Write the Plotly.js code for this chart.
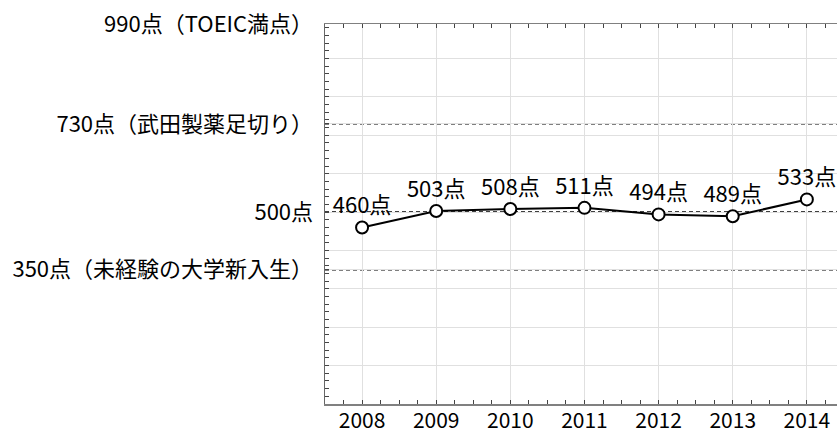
<!DOCTYPE html>
<html>
<head>
<meta charset="utf-8">
<script src="https://cdn.plot.ly/plotly-3.0.1.min.js"></script>
<style>
html,body{margin:0;padding:0;overflow:hidden;background:#fff;width:837px;height:433px;}
#chart{width:900px;height:433px;}
</style>
</head>
<body>
<div id="chart"></div>
<script>
const years = [2008, 2009, 2010, 2011, 2012, 2013, 2014];
const scores = [460, 503, 508, 511, 494, 489, 533];
const scoreLabels = ['460点', '503点', '508点', '511点', '494点', '489点', '533点'];
const refValues = [990, 730, 500, 350];
const refLabels = ['990点（TOEIC満点）', '730点（武田製薬足切り）', '500点', '350点（未経験の大学新入生）'];
const dashedRefValues = [730, 500, 350];
const gridValues = [0, 100, 200, 300, 400, 600, 700, 800, 900];

const FONT = '"Noto Sans CJK JP", "Noto Sans", sans-serif';

const tickvals = gridValues.concat(refValues);
const ticktext = gridValues.map(() => '').concat(refLabels);

const trace = {
  x: years,
  y: scores,
  text: scoreLabels,
  type: 'scatter',
  mode: 'lines+markers+text',
  textposition: 'top center',
  textfont: {family: FONT, size: 22, color: '#000'},
  line: {color: '#000', width: 2},
  marker: {symbol: 'circle', size: 12, color: '#fff', line: {color: '#000', width: 2}},
  cliponaxis: false,
  hoverinfo: 'skip'
};

const shapes = dashedRefValues.map(v => ({
  type: 'line', xref: 'paper', x0: 0, x1: 1, yref: 'y', y0: v, y1: v,
  line: {color: '#000', width: 1.5, dash: '4px,3px'}, layer: 'between'
}));

const layout = {
  width: 900, height: 433,
  margin: {l: 325, r: 19, t: 24, b: 29},
  paper_bgcolor: '#fff', plot_bgcolor: '#fff',
  showlegend: false,
  font: {family: FONT, size: 22, color: '#000'},
  xaxis: {
    range: [2007.5, 2015],
    tickmode: 'array', tickvals: years, ticktext: years.map(String),
    showgrid: true, gridcolor: '#e0e0e0', gridwidth: 1,
    zeroline: false,
    showline: true, linecolor: '#808080', linewidth: 1.5, mirror: 'ticks',
    ticks: 'inside', ticklen: 4, tickcolor: '#444',
    minor: {tickmode: 'linear', tick0: 2008, dtick: 0.25, ticks: 'inside', ticklen: 4, tickcolor: '#444', showgrid: false},
    tickfont: {family: FONT, size: 21, color: '#000'},
    ticklabelstandoff: -3
  },
  yaxis: {
    range: [0, 990],
    tickmode: 'array', tickvals: tickvals, ticktext: ticktext,
    showgrid: true, gridcolor: '#e0e0e0', gridwidth: 1,
    zeroline: false,
    showline: true, linecolor: '#666', linewidth: 1.5, mirror: false,
    ticks: 'inside', ticklen: 4, tickcolor: '#444',
    minor: {tickmode: 'linear', tick0: 0, dtick: 20, ticks: 'inside', ticklen: 4, tickcolor: '#444', showgrid: false},
    tickfont: {family: FONT, size: 22, color: '#000'},
    ticklabelstandoff: 6
  },
  shapes: shapes
};

Plotly.newPlot('chart', [trace], layout, {displayModeBar: false, staticPlot: true});
</script>
</body>
</html>
